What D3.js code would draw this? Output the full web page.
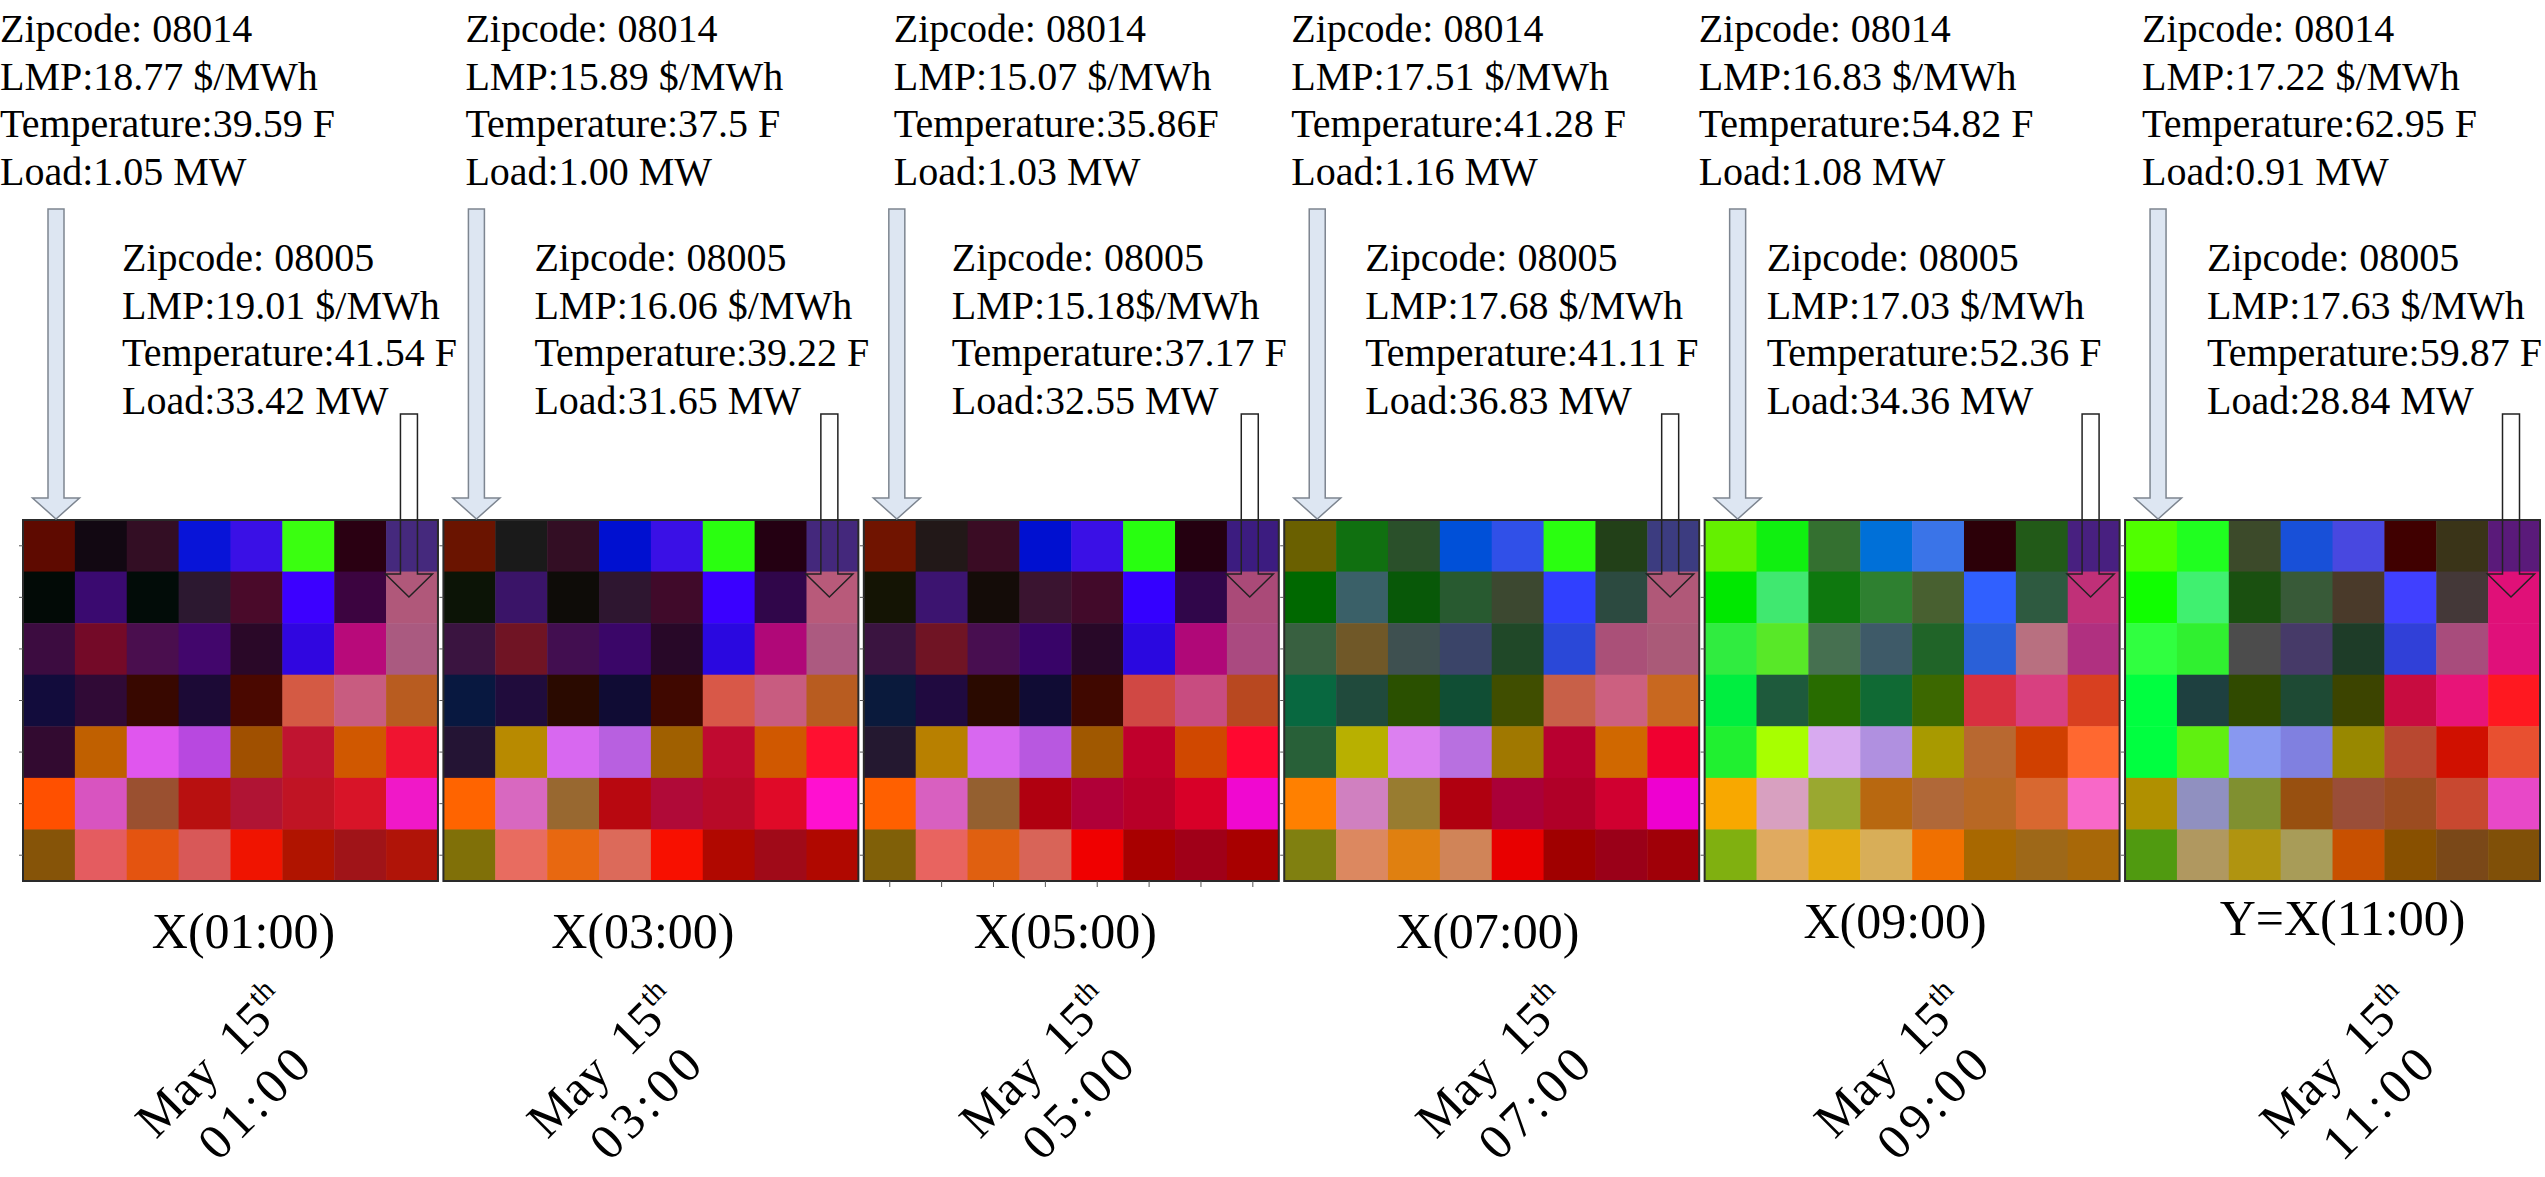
<!DOCTYPE html>
<html lang="en">
<head>
<meta charset="UTF-8">
<title>LMP heat maps, May 15th</title>
<script src="https://d3js.org/d3.v7.min.js"></script>
<style>
  body { margin: 0; background: #fff; }
  text { font-family: "Liberation Serif", "Times New Roman", serif; fill: #000; }
</style>
</head>
<body>
<svg id="main" width="2545" height="1177"></svg>
<script>
// ---- data ----
const hours = ["01:00", "03:00", "05:00", "07:00", "09:00", "11:00"];
const zipA = "08014", zipB = "08005";
const lmpA  = ["18.77", "15.89", "15.07", "17.51", "16.83", "17.22"];
const tempA = ["39.59", "37.5", "35.86", "41.28", "54.82", "62.95"];
const loadA = ["1.05", "1.00", "1.03", "1.16", "1.08", "0.91"];
const lmpB  = ["19.01", "16.06", "15.18", "17.68", "17.03", "17.63"];
const tempB = ["41.54", "39.22", "37.17", "41.11", "52.36", "59.87"];
const loadB = ["33.42", "31.65", "32.55", "36.83", "34.36", "28.84"];
// unit separators as printed (a few have no space)
const tempSepA = [" ", " ", "", " ", " ", " "];
const lmpSepB  = [" ", " ", "", " ", " ", " "];

// cell colours, 7 rows x 8 columns per hour
const cells01 = [
  ["#5e0a00","#120812","#330e24","#0814d8","#3a10e6","#3aff10","#2a0012","#45297d"],
  ["#020a06","#3a0a70","#020c08","#2c1830","#4a0a2a","#3c00ff","#3c0440","#b0587a"],
  ["#3c0c40","#740a28","#4a0e4e","#42066c","#2a0828","#3006e0","#b80a7a","#aa5a80"],
  ["#120c3c","#300a36","#380800","#1c0a36","#4a0800","#d45a44","#c85c80","#b85c20"],
  ["#320a30","#c06000","#e056ee","#b848e0","#a05000","#c01430","#d05800","#f01430"],
  ["#ff5000","#d854c0","#9a5030","#b81010","#b01434","#c01424","#d81428","#f018c8"],
  ["#865408","#e45c60","#e45410","#d85858","#f01400","#b01400","#a01418","#b01408"]
];
const cells03 = [
  ["#6a1400","#1a1a1a","#330e24","#0010d0","#3a10e6","#2aff10","#240012","#44287c"],
  ["#0c1406","#3a1468","#0e0c08","#2e1630","#400a2a","#3a00ff","#30064a","#b85a7a"],
  ["#3a1440","#701424","#420e50","#3a0668","#280828","#2a08e0","#b00878","#ac5a80"],
  ["#081840","#200c3c","#2a0a00","#100c34","#400800","#d85848","#c85c80","#b85c20"],
  ["#241434","#b88a00","#d868f0","#b860e0","#a06000","#c00a30","#d05800","#ff1030"],
  ["#ff6400","#d868c0","#986830","#b80810","#b00a38","#b80a28","#e00a28","#ff10d0"],
  ["#807008","#e86c60","#e86810","#dc6a5a","#f81000","#b00800","#a00a18","#b00800"]
];
const cells05 = [
  ["#701400","#221818","#3a0c24","#0010d0","#3a10e6","#28ff10","#240010","#3c1c80"],
  ["#141404","#3c1470","#140c08","#3a1430","#420a2a","#3400ff","#30064a","#aa4a78"],
  ["#3a1440","#701424","#480e50","#380468","#280828","#2a08e0","#b00878","#aa4a80"],
  ["#0a1a3c","#200a40","#2a0a00","#100c34","#400800","#d04844","#c84c80","#b84820"],
  ["#241830","#b88000","#d868f0","#b858e0","#a05800","#c0002c","#d04800","#ff0830"],
  ["#ff6000","#d860c0","#946030","#b00010","#b00038","#b80028","#d80028","#f008d0"],
  ["#806008","#e86460","#e06010","#d86458","#f00000","#a80000","#a00018","#a80000"]
];
const cells07 = [
  ["#6a6000","#107010","#2a502a","#0050d8","#3050e8","#2aff10","#224018","#3c3c80"],
  ["#006800","#3a6068","#085808","#285a30","#3c4830","#3040ff","#2c4a40","#b05878"],
  ["#386040","#705828","#3e5050","#3a4468","#204828","#2a48d8","#aa5078","#aa5a78"],
  ["#086840","#204a3c","#2a5000","#104e34","#404e00","#c86048","#cc6080","#c86820"],
  ["#286038","#b8b000","#dc80f0","#b870e0","#a07800","#b80030","#d06800","#f00030"],
  ["#ff8000","#d080c0","#987c30","#b00010","#aa0038","#b00028","#d00030","#ee00d0"],
  ["#808010","#dc8860","#e08010","#d08458","#e80000","#a00000","#9a0018","#a00008"]
];
const cells09 = [
  ["#64f000","#10f010","#347030","#0070d8","#3a74e8","#2c0008","#225a18","#482080"],
  ["#00e800","#40e870","#0e780e","#2e8030","#486030","#3060ff","#2e5a40","#c03078"],
  ["#30ec40","#58e828","#467050","#3e5a68","#206428","#2a60d8","#b87080","#b03080"],
  ["#00ee40","#1e5a3c","#286c00","#106a34","#3c6800","#d83040","#d84080","#d84020"],
  ["#20f030","#a8ff00","#d8aaf0","#b090e0","#a89a00","#b86830","#d04000","#ff6830"],
  ["#f8a800","#d8a0c0","#9aa830","#b86810","#b06838","#b86824","#d86830","#f868c8"],
  ["#80b010","#e0aa60","#e4aa10","#d8ae58","#f07000","#a86800","#9e6818","#a86808"]
];
const cells11 = [
  ["#50ff00","#20ff20","#3c4a2a","#1850d8","#4848e0","#400000","#3a3418","#5a1a7a"],
  ["#10ff00","#40f070","#1a5010","#385a38","#4a3a2a","#4040ff","#443838","#e01078"],
  ["#30ff40","#30f030","#4c4c4c","#463a68","#1e3c28","#3040d8","#a84c7c","#e0107a"],
  ["#00ff40","#1e4040","#304a00","#1e4a34","#3c4400","#c80c40","#e81478","#ff1820"],
  ["#00ff40","#60f010","#8898f0","#8080e0","#988800","#b84830","#d01000","#e85030"],
  ["#b09000","#9090c0","#809030","#985010","#9a4e38","#9c4c20","#c84830","#e848c8"],
  ["#509a10","#b09860","#b09410","#a89c58","#c85000","#885000","#7a4818","#805008"]
];
const allCells = [cells01, cells03, cells05, cells07, cells09, cells11];

// ---- layout ----
const svg = d3.select('#main');
const cols = d3.range(8), rows = d3.range(7);

const panelX = d3.scaleBand().domain(hours).range([23, 2540]).paddingInner(0.013);
const cellX = d3.scaleBand().domain(cols).range([0, panelX.bandwidth()]);
const cellY = d3.scaleBand().domain(rows).range([520, 881]);

// text offsets from each panel's left edge (labels were hand placed)
const noteAdx = [-23, 22, 30, 7, -6, 17];
const noteBdx = [99, 91, 88, 81, 62, 82];
const labelDx = [13, -8, -6, -4, -17, 10];
const labelY  = [948, 948, 948, 948, 938, 935];
const dateDx  = [2, -27, -15, 21, -1, 24];

function arrowPath(cx, top, tip, sw, hw, hh) {
    return `M${cx - sw},${top} L${cx + sw},${top} L${cx + sw},${tip - hh} L${cx + hw},${tip - hh}` +
           ` L${cx},${tip} L${cx - hw},${tip - hh} L${cx - sw},${tip - hh} Z`;
}

hours.forEach(function (h, p) {
    const x0 = panelX(h), w = panelX.bandwidth();
    const g = svg.append('g').attr('class', 'panel');

    // heat map cells
    const data = [];
    rows.forEach(r => cols.forEach(c => data.push({r: r, c: c, color: allCells[p][r][c]})));
    g.selectAll('rect.cell')
        .data(data)
        .enter()
        .append('rect')
        .attr('class', 'cell')
        .attr('x', d => x0 + cellX(d.c))
        .attr('y', d => cellY(d.r))
        .attr('width', cellX.bandwidth() + 0.5)
        .attr('height', cellY.bandwidth() + 0.5)
        .attr('fill', d => d.color);

    g.append('rect')
        .attr('x', x0).attr('y', cellY.range()[0])
        .attr('width', w).attr('height', cellY.range()[1] - cellY.range()[0])
        .attr('fill', 'none').attr('stroke', '#2a2a2a').attr('stroke-width', 2);

    // faint tick marks on the left edge
    const yAx = g.append('g').attr('transform', `translate(${x0},0)`)
        .call(d3.axisLeft(cellY).tickSizeInner(4).tickSizeOuter(0).tickFormat(''));
    yAx.select('.domain').remove();
    yAx.selectAll('line').attr('stroke', '#555');
    if (p === 2) {
        const xAx = g.append('g').attr('transform', `translate(${x0},${cellY.range()[1]})`)
            .call(d3.axisBottom(cellX).tickSizeInner(6).tickSizeOuter(0).tickFormat(''));
        xAx.select('.domain').remove();
        xAx.selectAll('line').attr('stroke', '#555');
    }

    // notes
    const linesA = ['Zipcode: ' + zipA, 'LMP:' + lmpA[p] + ' $/MWh',
        'Temperature:' + tempA[p] + tempSepA[p] + 'F', 'Load:' + loadA[p] + ' MW'];
    const linesB = ['Zipcode: ' + zipB, 'LMP:' + lmpB[p] + lmpSepB[p] + '$/MWh',
        'Temperature:' + tempB[p] + ' F', 'Load:' + loadB[p] + ' MW'];
    g.selectAll('text.noteA').data(linesA).enter().append('text')
        .attr('class', 'noteA')
        .attr('x', x0 + noteAdx[p]).attr('y', (d, i) => 42 + i * 47.7)
        .attr('font-size', 40).text(d => d);
    g.selectAll('text.noteB').data(linesB).enter().append('text')
        .attr('class', 'noteB')
        .attr('x', x0 + noteBdx[p]).attr('y', (d, i) => 271 + i * 47.5)
        .attr('font-size', 40).text(d => d);

    // arrows: thick light one to the top-left cell, thin outline to the right column
    g.append('path')
        .attr('d', arrowPath(x0 + 33, 209, 519, 8, 23.5, 21))
        .attr('fill', '#dde6f2').attr('stroke', '#7d8590').attr('stroke-width', 1.5);
    g.append('path')
        .attr('d', arrowPath(x0 + w - 29, 414, 597, 8.5, 23.5, 23))
        .attr('fill', 'none').attr('stroke', '#222').attr('stroke-width', 1.5);

    // labels under the map
    g.append('text')
        .attr('x', x0 + w / 2 + labelDx[p]).attr('y', labelY[p])
        .attr('text-anchor', 'middle').attr('font-size', 50)
        .text((p === hours.length - 1 ? 'Y=' : '') + 'X(' + h + ')');

    const dg = g.append('g')
        .attr('transform', `translate(${x0 + w / 2 + dateDx[p]},1082) rotate(-45)`);
    const t1 = dg.append('text').attr('text-anchor', 'middle').attr('y', -13)
        .attr('font-size', 50).style('white-space', 'pre');
    t1.append('tspan').text('May  15');
    t1.append('tspan').attr('font-size', 30).attr('dy', -20).text('th');
    dg.append('text').attr('text-anchor', 'middle').attr('y', 47)
        .attr('font-size', 50).attr('textLength', 134).attr('lengthAdjust', 'spacing')
        .text(h);
});
</script>
</body>
</html>
